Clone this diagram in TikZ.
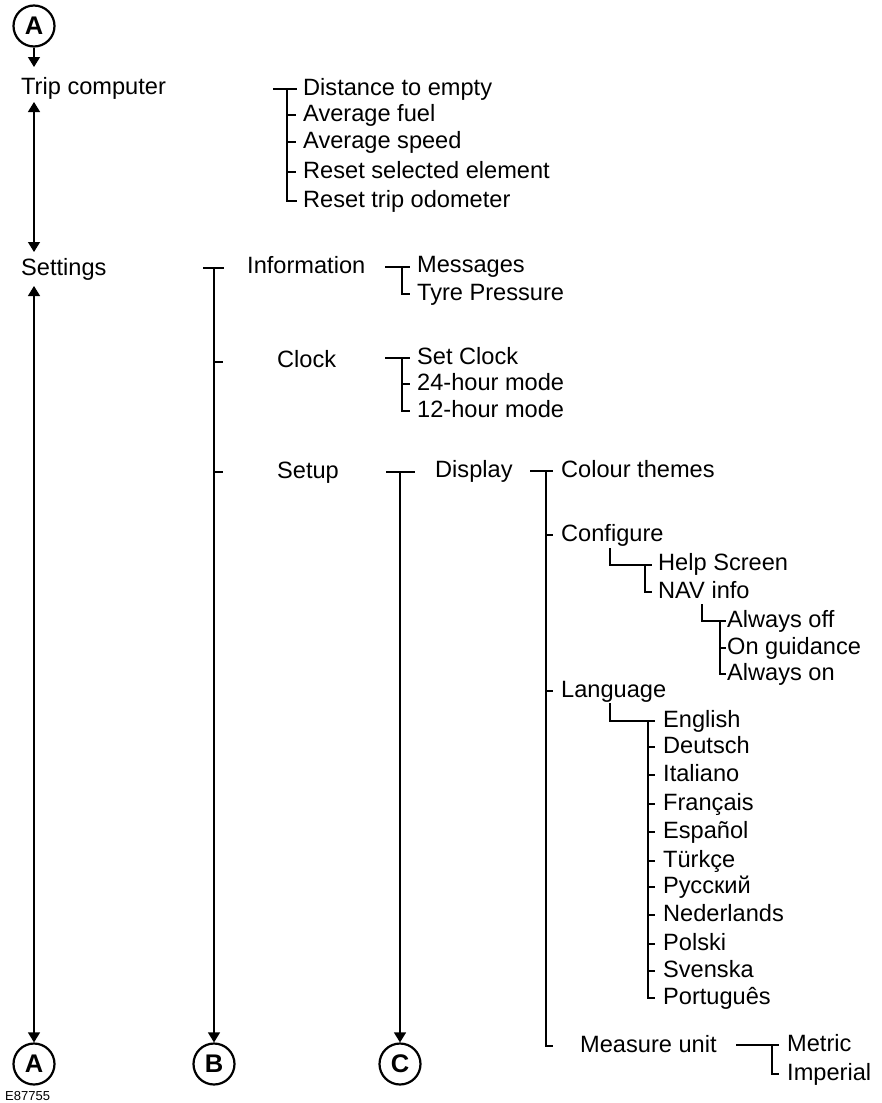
\documentclass[tikz,border=0pt]{standalone}
\usepackage{fontspec}
\setmainfont{Liberation Sans}
\usetikzlibrary{arrows.meta}
\begin{document}
\begin{tikzpicture}[x=1pt,y=-1pt,
  lbl/.style={anchor=base west,inner sep=0pt,font=\fontsize{23.6}{28}\selectfont},
  circ/.style={circle,draw,line width=2.2pt,minimum size=41pt,inner sep=0pt,font=\fontsize{25.5}{28}\selectfont\bfseries},
  tree/.style={line width=1.2pt},
  arr/.style={line width=1.3pt,-{Triangle[width=12pt,length=10pt]}},
  darr/.style={line width=1.3pt,{Triangle[width=12pt,length=10pt]}-{Triangle[width=12pt,length=10pt]}}]
\useasboundingbox (0,0) rectangle (881,1103);
% circles
\node[circ] (Atop) at (34,26) {A};
\node[circ] (Abot) at (34,1064) {A};
\node[circ] (Bbot) at (214,1064) {B};
\node[circ] (Cbot) at (400,1064) {C};
\node[anchor=base west,inner sep=0pt,font=\fontsize{13}{15}\selectfont] (code) at (5,1100) {E87755};
% main column
\node[lbl] (trip) at (21,94) {Trip computer};
\node[lbl] (settings) at (21,275) {Settings};
\coordinate (tripup) at (34,102);
\coordinate (tripdown) at (34,252);
\coordinate (setup0) at (34,286);
\draw[arr] (Atop.south) -- (34,67);
\draw[darr] (tripup) -- (tripdown);
\draw[darr] (setup0) -- (Abot.north);
% trip computer items
\node[lbl] (t1) at (303,95) {Distance to empty};
\node[lbl] (t2) at (303,121) {Average fuel};
\node[lbl] (t3) at (303,148) {Average speed};
\node[lbl] (t4) at (303,178) {Reset selected element};
\node[lbl] (t5) at (303,207) {Reset trip odometer};
\draw[tree] (273,89) -- (297,89);
\draw[tree] (287,89) -- (287,201) -- (297,201);
\foreach \y in {115,142,172} \draw[tree] (287,\y) -- (296,\y);
% settings level
\node[lbl] (info) at (247,273) {Information};
\node[lbl] (clock) at (277,367) {Clock};
\node[lbl] (setup) at (277,478) {Setup};
\coordinate (Btop) at (214,268);
\draw[tree] (203,268) -- (224,268);
\draw[arr] (Btop) -- (Bbot.north);
\draw[tree] (214,362) -- (223,362);
\draw[tree] (214,472) -- (223,472);
% information
\node[lbl] (msg) at (417,272) {Messages};
\node[lbl] (tyre) at (417,300) {Tyre Pressure};
\draw[tree] (385,267) -- (410,267);
\draw[tree] (402,267) -- (402,294) -- (410,294);
% clock
\node[lbl] (c1) at (417,364) {Set Clock};
\node[lbl] (c2) at (417,390) {24-hour mode};
\node[lbl] (c3) at (417,417) {12-hour mode};
\draw[tree] (385,358) -- (410,358);
\draw[tree] (402,358) -- (402,411) -- (410,411);
\draw[tree] (402,384) -- (410,384);
% setup
\coordinate (Ctop) at (400,472);
\draw[tree] (386,472) -- (415,472);
\draw[arr] (Ctop) -- (Cbot.north);
\node[lbl] (display) at (435,477) {Display};
% display
\draw[tree] (530,471) -- (553,471);
\draw[tree] (546,471) -- (546,1046) -- (553,1046);
\draw[tree] (546,535) -- (553,535);
\draw[tree] (546,691) -- (553,691);
\node[lbl] (colour) at (561,477) {Colour themes};
\node[lbl] (config) at (561,541) {Configure};
\node[lbl] (lang) at (561,697) {Language};
\node[lbl] (measure) at (580,1052) {Measure unit};
% configure
\draw[tree] (610,548) -- (610,565) -- (652,565);
\draw[tree] (645,565) -- (645,592) -- (652,592);
\node[lbl] (help) at (658,570) {Help Screen};
\node[lbl] (nav) at (658,598) {NAV info};
% nav
\draw[tree] (702,604) -- (702,621) -- (726,621);
\draw[tree] (720,621) -- (720,674) -- (726,674);
\draw[tree] (720,648) -- (726,648);
\node[lbl] (n1) at (727,627) {Always off};
\node[lbl] (n2) at (727,654) {On guidance};
\node[lbl] (n3) at (727,680) {Always on};
% language
\draw[tree] (610,703) -- (610,721) -- (655,721);
\draw[tree] (648,721) -- (648,998) -- (655,998);
\foreach \y in {747,775,804,832,861,887,915,944,971} \draw[tree] (648,\y) -- (655,\y);
\node[lbl] (l1) at (663,727) {English};
\node[lbl] (l2) at (663,753) {Deutsch};
\node[lbl] (l3) at (663,781) {Italiano};
\node[lbl] (l4) at (663,810) {Français};
\node[lbl] (l5) at (663,838) {Español};
\node[lbl] (l6) at (663,867) {Türkçe};
\node[lbl] (l7) at (663,893) {Русский};
\node[lbl] (l8) at (663,921) {Nederlands};
\node[lbl] (l9) at (663,950) {Polski};
\node[lbl] (l10) at (663,977) {Svenska};
\node[lbl] (l11) at (663,1004) {Português};
% measure
\draw[tree] (736,1045) -- (779,1045);
\draw[tree] (772,1045) -- (772,1074) -- (779,1074);
\node[lbl] (metric) at (787,1051) {Metric};
\node[lbl] (imperial) at (787,1080) {Imperial};
\end{tikzpicture}
\end{document}
